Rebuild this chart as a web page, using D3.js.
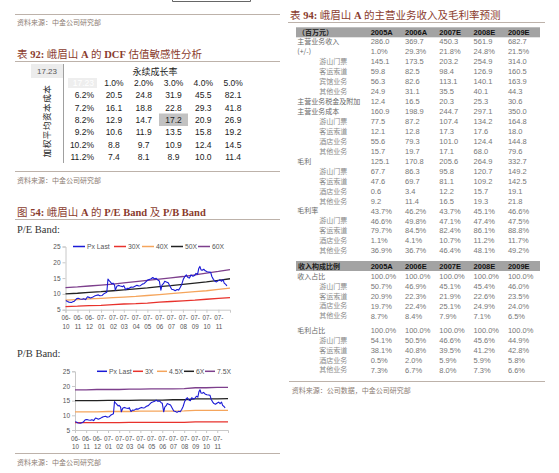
<!DOCTYPE html>
<html><head><meta charset="utf-8">
<script src="https://cdn.jsdelivr.net/npm/d3@7"></script>
<style>body{margin:0;background:#fff}svg{display:block}</style>
</head><body>
<script>
// ---------------- DATA ----------------
const dcfCorner = "17.23";
const dcfGrowth = ["1.0%","2.0%","3.0%","4.0%","5.0%"];
const dcfWacc = ["6.2%","7.2%","8.2%","9.2%","10.2%","11.2%"];
const dcfValues = [
  [20.5,24.8,31.9,45.5,82.1],
  [16.1,18.8,22.8,29.3,41.8],
  [12.9,14.7,17.2,20.9,26.9],
  [10.6,11.9,13.5,15.8,19.2],
  [8.8,9.7,10.9,12.4,14.5],
  [7.4,8.1,8.9,10.0,11.4]
];
const dcfBase = {wacc:"8.2%", growth:"3.0%"};

const yearsA = ["2005A","2006A","2007E","2008E","2009E"];
const yearsB = ["2005A","2006E","2007E","2008E","2009E"];
const revLabels = ["主营业务收入","(+/-)","游山门票","客运索道","宾馆业务","其他业务","主营业务税金及附加","主营业务成本","游山门票","客运索道","酒店业务","其他业务","毛利","游山门票","客运索道","酒店业务","其他业务","毛利率","游山门票","客运索道","酒店业务","其他业务"];
const revLevels = [0,0,1,1,1,1,0,0,1,1,1,1,0,1,1,1,1,0,1,1,1,1];
const revValues = [
  ["286.0","369.7","450.3","561.9","682.7"],
  ["1.0%","29.3%","21.8%","24.8%","21.5%"],
  ["145.1","173.5","203.2","254.9","314.0"],
  ["59.8","82.5","98.4","126.9","160.5"],
  ["56.3","82.6","113.1","140.1","163.9"],
  ["24.9","31.1","35.5","40.1","44.3"],
  ["12.4","16.5","20.3","25.3","30.6"],
  ["160.9","198.9","244.7","297.1","350.0"],
  ["77.5","87.2","107.4","134.2","164.8"],
  ["12.1","12.8","17.3","17.6","18.0"],
  ["55.6","79.3","101.0","124.4","144.8"],
  ["15.7","19.7","17.1","68.0","79.6"],
  ["125.1","170.8","205.6","264.9","332.7"],
  ["67.7","86.3","95.8","120.7","149.2"],
  ["47.6","69.7","81.1","109.2","142.5"],
  ["0.6","3.4","12.2","15.7","19.1"],
  ["9.2","11.4","16.5","19.3","21.8"],
  ["43.7%","46.2%","43.7%","45.1%","46.6%"],
  ["46.6%","49.8%","47.1%","47.4%","47.5%"],
  ["79.7%","84.5%","82.4%","86.1%","88.8%"],
  ["1.1%","4.1%","10.7%","11.2%","11.7%"],
  ["36.9%","36.7%","46.4%","48.1%","49.2%"]
];
const mixLabels = ["收入占比","游山门票","客运索道","酒店业务","其他业务","毛利占比","游山门票","客运索道","酒店业务","其他业务"];
const mixLevels = [0,1,1,1,1,0,1,1,1,1];
const mixValues = [
  ["100.0%","100.0%","100.0%","100.0%","100.0%"],
  ["50.7%","46.9%","45.1%","45.4%","46.0%"],
  ["20.9%","22.3%","21.9%","22.6%","23.5%"],
  ["19.7%","22.4%","25.1%","24.9%","24.0%"],
  ["8.7%","8.4%","7.9%","7.1%","6.5%"],
  ["100.0%","100.0%","100.0%","100.0%","100.0%"],
  ["54.1%","50.5%","46.6%","45.6%","44.9%"],
  ["38.1%","40.8%","39.5%","41.2%","42.8%"],
  ["0.5%","2.0%","5.9%","5.9%","5.8%"],
  ["7.3%","6.7%","8.0%","7.3%","6.6%"]
];

// Price (Px Last)
const pxDates = ["2006-10-02","2006-10-06","2006-10-10","2006-10-16","2006-10-20","2006-10-24","2006-10-30","2006-11-03","2006-11-08","2006-11-13","2006-11-17","2006-11-22","2006-11-27","2006-12-01","2006-12-05","2006-12-11","2006-12-15","2006-12-19","2006-12-25","2006-12-29","2007-01-04","2007-01-08","2007-01-12","2007-01-16","2007-01-19","2007-01-22","2007-01-25","2007-01-29","2007-02-01","2007-02-05","2007-02-07","2007-02-11","2007-02-15","2007-02-20","2007-02-26","2007-03-01","2007-03-06","2007-03-10","2007-03-14","2007-03-20","2007-03-25","2007-03-30","2007-04-04","2007-04-09","2007-04-13","2007-04-18","2007-04-23","2007-04-27","2007-05-02","2007-05-07","2007-05-11","2007-05-15","2007-05-19","2007-05-24","2007-05-29","2007-06-01","2007-06-05","2007-06-08","2007-06-12","2007-06-15","2007-06-19","2007-06-24","2007-06-28","2007-07-03","2007-07-08","2007-07-12","2007-07-17","2007-07-21","2007-07-25","2007-07-29","2007-08-02","2007-08-06","2007-08-10","2007-08-14","2007-08-18","2007-08-22","2007-08-27","2007-08-31","2007-09-04","2007-09-08","2007-09-11","2007-09-14","2007-09-17","2007-09-20","2007-09-24","2007-09-28","2007-10-03","2007-10-08","2007-10-12","2007-10-15","2007-10-19","2007-10-23","2007-10-27","2007-11-01","2007-11-05","2007-11-09","2007-11-13","2007-11-16","2007-11-20","2007-11-23"];
const pxValues = [7.9,7.6,7.4,7.3,7.5,7.7,8.5,8.6,8.4,8.3,8.5,8.2,9.1,8.9,8.7,9.0,9.3,9.5,9.7,9.4,9.5,10.0,10.3,10.5,14.7,14.2,13.8,13.2,13.4,12.8,11.2,12.4,12.7,12.5,12.3,12.6,11.3,11.8,11.7,12.2,12.1,12.4,12.7,12.5,12.6,13.1,13.3,13.8,14.4,14.6,14.8,15.2,14.8,14.9,14.3,14.1,11.2,12.8,13.3,14.0,13.8,13.5,12.6,11.5,11.3,11.0,11.4,11.2,12.0,13.0,14.6,15.5,16.0,15.2,15.0,16.0,15.6,15.8,16.5,16.2,18.0,18.7,17.6,17.5,17.8,17.3,17.0,16.9,16.8,15.5,14.6,14.0,13.8,14.2,14.5,14.0,14.5,13.4,13.0,12.5];

// Band dates (monthly) and band values
const bandDates = ["2006-10-01","2006-11-01","2006-12-01","2007-01-01","2007-02-01","2007-03-01","2007-04-01","2007-05-01","2007-06-01","2007-07-01","2007-08-01","2007-09-01","2007-10-01","2007-11-01","2007-12-01"];
const peNames = ["30X","40X","50X","60X"];
const peBands = [
  [6.0,6.1,6.3,6.4,6.6,6.8,6.9,7.1,7.4,7.6,7.8,8.0,8.3,8.6,8.8],
  [8.0,8.2,8.4,8.6,8.8,9.0,9.2,9.5,9.8,10.1,10.4,10.7,11.0,11.4,11.8],
  [10.0,10.2,10.5,10.7,11.0,11.3,11.6,11.9,12.3,12.6,13.0,13.4,13.8,14.3,14.8],
  [12.0,12.2,12.5,12.8,13.1,13.5,13.9,14.3,14.7,15.1,15.5,16.0,16.6,17.1,17.7]
];
const pbNames = ["3X","4.5X","6X","7.5X"];
const pbBands = [
  [7.5,7.5,7.5,7.5,7.5,7.6,7.6,7.6,7.6,7.6,7.6,7.8,7.8,7.8,7.8],
  [11.2,11.2,11.2,11.3,11.3,11.3,11.4,11.4,11.4,11.4,11.5,11.7,11.7,11.7,11.7],
  [15.0,15.0,15.0,15.1,15.1,15.1,15.2,15.2,15.2,15.3,15.3,15.6,15.6,15.6,15.7],
  [18.7,18.7,18.8,18.8,18.8,18.9,18.9,19.0,19.0,19.0,19.1,19.4,19.4,19.5,19.5]
];
const yTicks = [5,10,15,20,25];

// ---------------- STYLE ----------------
const CJK = "'Noto Sans CJK SC', sans-serif";
const SANS = "'Liberation Sans', Arial, sans-serif";
const SERIF = "'Liberation Serif', 'Noto Sans CJK SC', serif";
const TITLE_C = "#8a3b2d", RULE_C = "#bdb2aa", SRC_C = "#8c7d74";
const bandColors = ["#e8322c","#f5a55c","#222222","#7d3f8c"];
const pxColor = "#1a1ad6";

const svg = d3.select("body").append("svg").attr("width",559).attr("height",473);
const parse = d3.timeParse("%Y-%m-%d");

function hline(x1,x2,y,c,w){svg.append("line").attr("x1",x1).attr("x2",x2).attr("y1",y).attr("y2",y).attr("stroke",c||RULE_C).attr("stroke-width",w||1);}
function title(x,y,parts,size){
  const t=svg.append("text").attr("x",x).attr("y",y).attr("font-family",SERIF).attr("font-size",size||10.5).attr("fill",TITLE_C);
  parts.forEach(p=>t.append("tspan").text(p[0]).attr("font-weight",p[1]?"bold":"normal"));
}
function source(x,y,txt){svg.append("text").attr("x",x).attr("y",y).attr("font-family",CJK).attr("font-size",7).attr("fill",SRC_C).text(txt);}

// top partial box
svg.append("path").attr("d","M172.5,-2V1.5H250.5V-2").attr("fill","none").attr("stroke","#666").attr("stroke-width",1);

// ---------------- LEFT COLUMN ----------------
hline(15,280,14.5);
source(17,25,"资料来源：中金公司研究部");
title(17,58,[["表",0],[" 92: ",1],["峨眉山 ",0],["A",1],[" 的 ",0],["DCF",1],[" 估值敏感性分析",0]]);
hline(15,280,61.5);

// DCF table
const dcf = svg.append("g");
const colX = d3.scaleBand().domain(dcfGrowth).range([99,248]);
const rowY = d3.scalePoint().domain(["hdr"].concat(dcfWacc)).range([83,157]);
dcf.append("rect").attr("x",31).attr("y",64).attr("width",32).attr("height",14).attr("fill","#ececec");
dcf.append("line").attr("x1",63.5).attr("x2",63.5).attr("y1",64).attr("y2",163).attr("stroke","#888").attr("stroke-width",0.8);
dcf.append("text").attr("x",47).attr("y",74).attr("text-anchor","middle").attr("font-family",SANS).attr("font-size",8).attr("fill","#555").text(dcfCorner);
dcf.append("text").attr("x",155).attr("y",74.5).attr("text-anchor","middle").attr("font-family",CJK).attr("font-size",9).attr("fill","#222").text("永续成长率");
dcf.append("text").attr("transform","translate(49.5,121) rotate(-90)").attr("text-anchor","middle").attr("font-family",CJK).attr("font-size",8.5).attr("fill","#222").attr("letter-spacing",0.6).text("加权平均资本成本");
// hidden corner cell
dcf.append("rect").attr("x",68).attr("y",rowY("hdr")-5).attr("width",29).attr("height",10).attr("fill","#eeeeee");
dcf.append("text").attr("x",94).attr("y",rowY("hdr")+3).attr("text-anchor","end").attr("font-family",SANS).attr("font-size",8.5).attr("fill","#fff").text(dcfCorner);
// base highlight
dcf.append("rect").attr("x",colX(dcfBase.growth)+colX.bandwidth()/2-14.5).attr("y",rowY(dcfBase.wacc)-6.5).attr("width",29).attr("height",12.5).attr("fill","#c2c2c2");
dcf.selectAll(".gh").data(dcfGrowth).join("text").attr("x",d=>colX(d)+colX.bandwidth()/2).attr("y",rowY("hdr")+3).attr("text-anchor","middle").attr("font-family",SANS).attr("font-size",8.5).attr("fill","#222").text(d=>d);
dcf.selectAll(".wl").data(dcfWacc).join("text").attr("x",94).attr("y",d=>rowY(d)+3).attr("text-anchor","end").attr("font-family",SANS).attr("font-size",8.5).attr("fill","#222").text(d=>d);
dcfValues.forEach((row,i)=>{
  dcf.selectAll(".v"+i).data(row).join("text").attr("x",(d,j)=>colX(dcfGrowth[j])+colX.bandwidth()/2).attr("y",rowY(dcfWacc[i])+3)
    .attr("text-anchor","middle").attr("font-family",SANS).attr("font-size",8.5).attr("fill","#222").text(d=>d.toFixed(1));
});

hline(15,280,171.5);
source(17,183,"资料来源：中金公司研究部");
title(17,215.5,[["图",0],[" 54: ",1],["峨眉山 ",0],["A",1],[" 的 ",0],["P/E Band",1],[" 及 ",0],["P/B Band",1]]);
hline(15,280,219.5);
svg.append("text").attr("x",17).attr("y",232.5).attr("font-family","'Liberation Serif', serif").attr("font-size",10.5).attr("fill","#333").text("P/E Band:");
svg.append("text").attr("x",17).attr("y",356.5).attr("font-family","'Liberation Serif', serif").attr("font-size",10.5).attr("fill","#333").text("P/B Band:");

function bandChart(cfg){
  const g = svg.append("g");
  const x = d3.scaleTime().domain([new Date(2006,9,1), new Date(2007,11,1)]).range([cfg.x0,cfg.x1]);
  const y = d3.scaleLinear().domain([5,25]).range([cfg.yb,cfg.yt]);
  const ya = g.append("g").attr("transform",`translate(${cfg.x0},0)`).call(d3.axisLeft(y).tickValues(yTicks).tickSize(3).tickPadding(2));
  ya.select(".domain").attr("stroke","#c8c8c8");
  ya.selectAll(".tick line").attr("stroke","#c8c8c8");
  ya.selectAll("text").attr("font-family",SANS).attr("font-size",6.5).attr("fill","#555");
  const months = d3.timeMonth.range(new Date(2006,9,1), new Date(2007,10,2));
  const xa = g.append("g").attr("transform",`translate(0,${cfg.yb})`).call(d3.axisBottom(x).tickValues(months).tickSize(3).tickFormat(""));
  xa.select(".domain").attr("stroke","#c8c8c8");
  xa.selectAll(".tick line").attr("stroke","#c8c8c8");
  const lab = xa.selectAll(".tick").append("text").attr("font-family",SANS).attr("font-size",6.3).attr("fill","#555").attr("text-anchor","middle");
  lab.append("tspan").attr("x",0).attr("y",10.5).text(d=>d3.timeFormat("%y")(d)+"-");
  lab.append("tspan").attr("x",0).attr("y",19).text(d=>d3.timeFormat("%m")(d));
  const bd = bandDates.map(parse);
  const line = d3.line().x(d=>x(d[0])).y(d=>y(d[1]));
  cfg.bands.forEach((b,i)=>{
    g.append("path").attr("d",line(bd.map((d,k)=>[d,b[k]]))).attr("fill","none").attr("stroke",bandColors[i]).attr("stroke-width",1.3);
  });
  const pd = pxDates.map(parse);
  g.append("path").attr("d",line(pd.map((d,k)=>[d,pxValues[k]]))).attr("fill","none").attr("stroke",pxColor).attr("stroke-width",1.1).attr("stroke-linejoin","round");
  // legend
  const names = ["Px Last"].concat(cfg.names);
  const colors = [pxColor].concat(bandColors);
  const ly = y(25);
  names.forEach((n,i)=>{
    const lx = cfg.legendX[i];
    g.append("line").attr("x1",lx).attr("x2",lx+cfg.legLen).attr("y1",ly).attr("y2",ly).attr("stroke",colors[i]).attr("stroke-width",1.5);
    g.append("text").attr("x",lx+cfg.legLen+2).attr("y",ly+2.5).attr("font-family",SANS).attr("font-size",6.8).attr("fill","#555").text(n);
  });
}
bandChart({x0:65.5,x1:230,yb:309.7,yt:246.5,bands:peBands,names:peNames,legendX:[73,114,142,171,198],legLen:12});
bandChart({x0:75,x1:228,yb:430,yt:371.3,bands:pbBands,names:pbNames,legendX:[97,133,157,184,205],legLen:10});

hline(15,280,453.5);
source(17,465,"资料来源：中金公司研究部");

// ---------------- RIGHT COLUMN ----------------
title(290,19,[["表",0],[" 94: ",1],["峨眉山 ",0],["A",1],[" 的主营业务收入及毛利率预测",0]]);
hline(288,545,22.5);
const colR = d3.scaleBand().domain([0,1,2,3,4]).range([370.7,542.2]);
function header(yc,label,years){
  svg.append("rect").attr("x",296).attr("y",yc-5).attr("width",244).attr("height",10).attr("fill","#a3a3a3");
  svg.append("text").attr("x",298).attr("y",yc+2.6).attr("font-family",CJK).attr("font-size",7).attr("font-weight","bold").attr("fill","#1a1a1a").text(label);
  svg.selectAll(null).data(years).join("text").attr("x",(d,i)=>colR(i)).attr("y",yc+2.7).attr("font-family",SANS).attr("font-size",7.5).attr("font-weight","bold").attr("fill","#111").text(d=>d);
}
function rows(ys,labels,levels,values){
  labels.forEach((l,i)=>{
    svg.append("text").attr("x",levels[i]?319.3:297.3).attr("y",ys[i]+2.6).attr("font-family",CJK).attr("font-size",7)
      .attr("fill",levels[i]?"#8a8a8a":"#666").text(l);
    svg.selectAll(null).data(values[i]).join("text").attr("x",(d,j)=>colR(j)).attr("y",ys[i]+2.7).attr("font-family",SANS).attr("font-size",7.5).attr("fill","#777").text(d=>d);
  });
}
header(32.3,"（百万元）",yearsA);
rows(revLabels.map((d,i)=>41.7+i*9.95),revLabels,revLevels,revValues);
header(266,"收入构成比例",yearsB);
rows(mixLabels.map((d,i)=>276+i*9.95+(i>=5?4.3:0)),mixLabels,mixLevels,mixValues);
hline(289,545,381.5);
source(291.7,393,"资料来源：公司数据，中金公司研究部");
</script>
</body></html>
